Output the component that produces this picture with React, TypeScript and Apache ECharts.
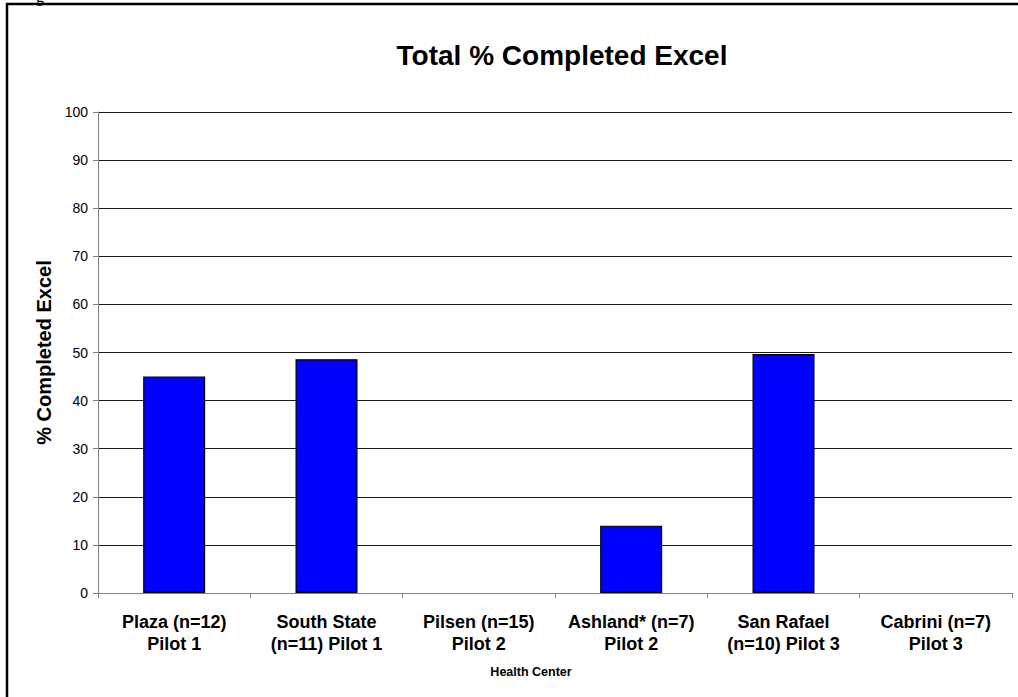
import React, { useEffect, useRef } from "react";
import * as echarts from "echarts";

const categories = [
  "Plaza (n=12)\nPilot 1",
  "South State\n(n=11) Pilot 1",
  "Pilsen (n=15)\nPilot 2",
  "Ashland* (n=7)\nPilot 2",
  "San Rafael\n(n=10) Pilot 3",
  "Cabrini (n=7)\nPilot 3",
];
const completedExcel = [45, 48.6, 0, 14, 49.7, 0];
const yTicks = { min: 0, max: 100, interval: 10 };

export default function App() {
  const ref = useRef<HTMLDivElement>(null);

  useEffect(() => {
    if (!ref.current) return;
    const chart = echarts.init(ref.current, null, { renderer: "svg" });
    const font = "Arial, 'Liberation Sans', sans-serif";
    // zero-height bars get no outline so nothing is drawn for them
    const barData = completedExcel.map((v) => ({
      value: v,
      itemStyle: v === 0 ? { borderWidth: 0 } : undefined,
    }));
    chart.setOption({
      animation: false,
      backgroundColor: "#ffffff",
      textStyle: { fontFamily: font },
      title: {
        text: "Total % Completed Excel",
        left: 557,
        textAlign: "center",
        top: 36,
        textStyle: { fontFamily: font, fontWeight: "bold", fontSize: 28, color: "#000" },
      },
      grid: { left: 98, right: 6, top: 112, bottom: 104, containLabel: false },
      xAxis: {
        type: "category",
        data: categories,
        axisLine: { show: true, lineStyle: { color: "#808080", width: 1 } },
        axisTick: { show: true, length: 5, alignWithLabel: false, lineStyle: { color: "#808080" } },
        axisLabel: {
          interval: 0,
          margin: 18,
          fontFamily: font,
          fontWeight: "bold",
          fontSize: 18,
          lineHeight: 22,
          color: "#000",
        },
        splitLine: { show: false },
      },
      yAxis: {
        type: "value",
        min: yTicks.min,
        max: yTicks.max,
        interval: yTicks.interval,
        name: "% Completed Excel",
        nameLocation: "middle",
        nameGap: 44,
        nameRotate: 90,
        nameTextStyle: { fontFamily: font, fontWeight: "bold", fontSize: 20, color: "#000" },
        axisLine: { show: true, lineStyle: { color: "#808080", width: 1 } },
        axisTick: { show: true, length: 5, lineStyle: { color: "#808080" } },
        axisLabel: { margin: 10, fontFamily: font, fontSize: 14, color: "#000" },
        splitLine: { show: true, lineStyle: { color: "#1a1a1a", width: 1 } },
      },
      series: [
        {
          type: "bar",
          data: barData,
          barWidth: 62,
          itemStyle: { color: "#0000ff", borderColor: "#000", borderWidth: 1.2 },
        },
      ],
      graphic: [
        {
          type: "rect",
          shape: { x: 7, y: 4, width: 1040, height: 720 },
          style: { fill: "none", stroke: "#000", lineWidth: 2.5 },
          silent: true,
        },
        {
          type: "text",
          x: 36,
          y: -12,
          style: { text: "g", font: "16px 'Liberation Serif', serif", fill: "#000" },
          silent: true,
        },
        {
          type: "text",
          x: 531,
          y: 672,
          style: {
            text: "Health Center",
            font: `bold 12.5px ${font}`,
            fill: "#000",
            align: "center",
            verticalAlign: "middle",
          },
          silent: true,
        },
      ],
    });
    return () => chart.dispose();
  }, []);

  return (
    <div
      ref={ref}
      style={{ position: "absolute", left: 0, top: 0, width: 1018, height: 697 }}
    />
  );
}
